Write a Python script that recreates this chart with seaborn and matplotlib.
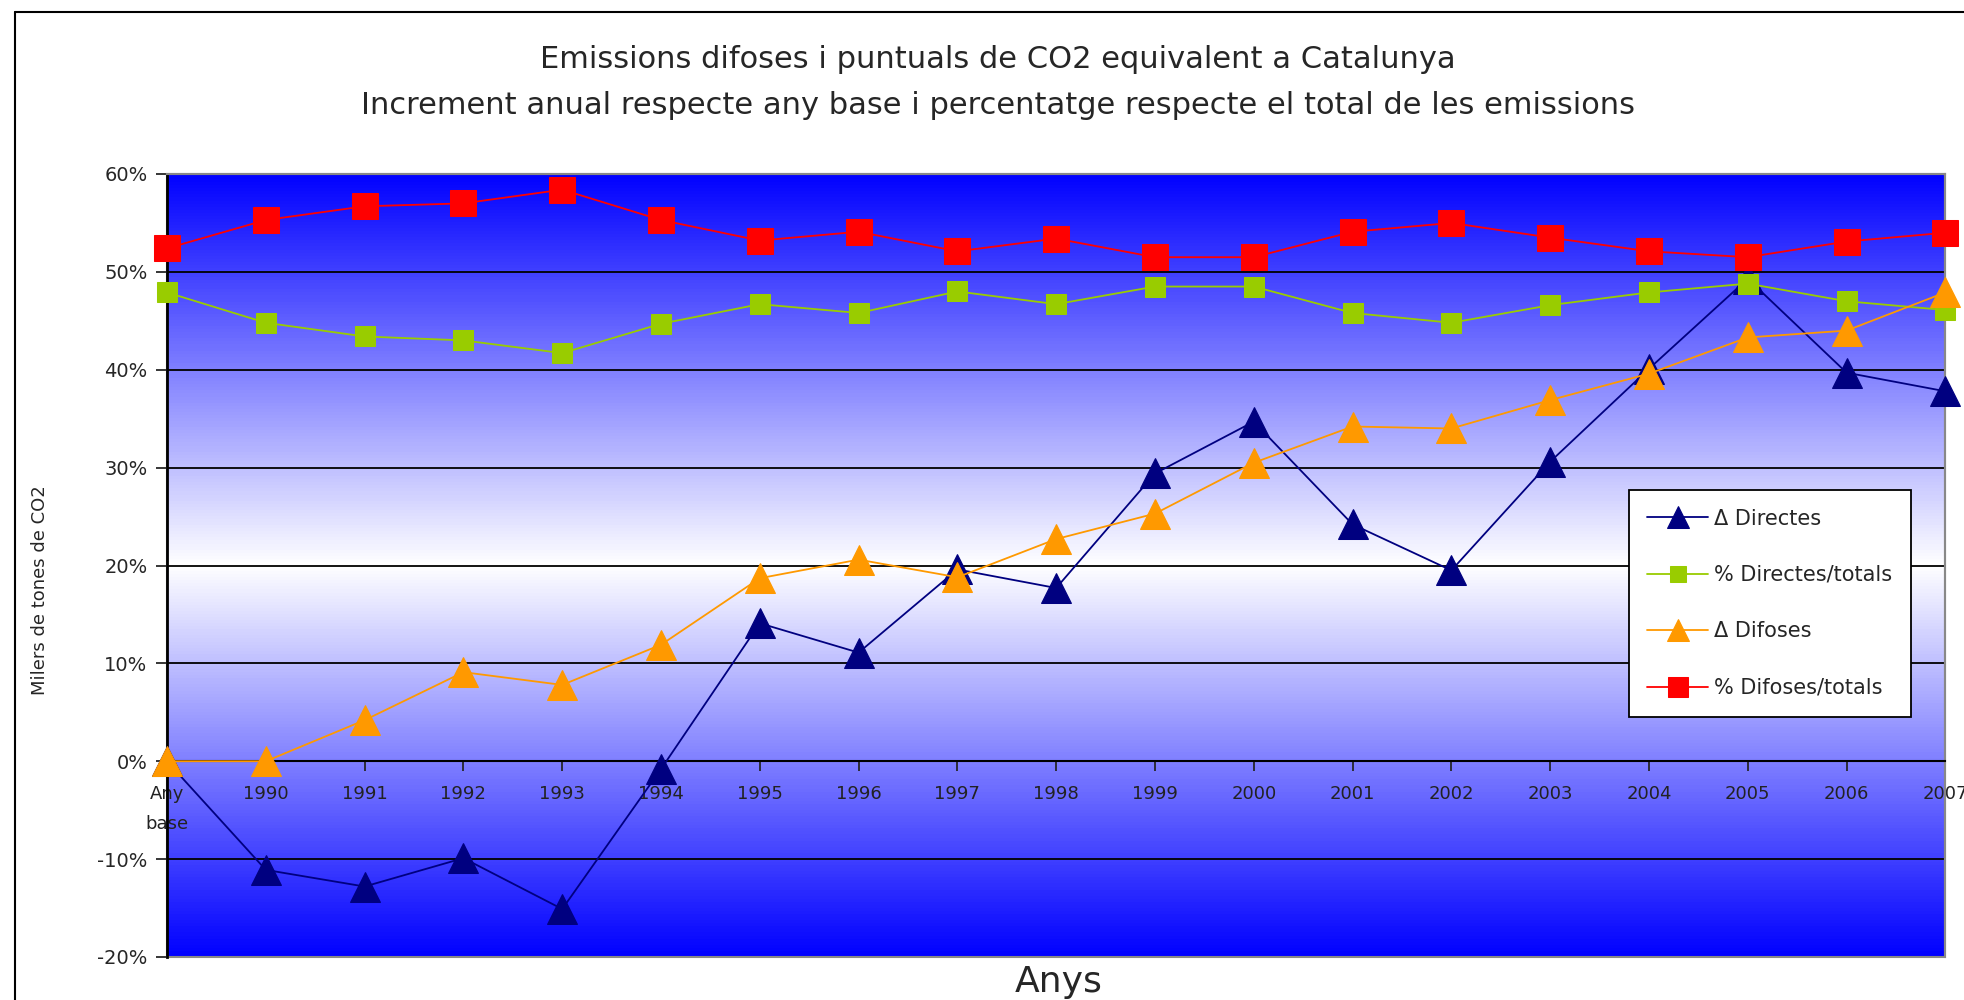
import numpy as np
import pandas as pd
import matplotlib
matplotlib.use('Agg')
import matplotlib.pyplot as plt
import seaborn as sns
from matplotlib.colors import LinearSegmentedColormap
from matplotlib.lines import Line2D
from matplotlib.patches import Rectangle

# dades llegides del grafic original (%)
anys = ['Any\nbase', '1990', '1991', '1992', '1993', '1994', '1995', '1996', '1997',
        '1998', '1999', '2000', '2001', '2002', '2003', '2004', '2005', '2006', '2007']
delta_directes = [0.0, -11.1, -12.8, -9.9, -15.1, -0.8, 14.1, 11.1, 19.6, 17.7,
                  29.4, 34.7, 24.2, 19.5, 30.6, 40.1, 49.3, 39.7, 37.8]
pct_directes = [47.9, 44.8, 43.4, 43.0, 41.7, 44.7, 46.7, 45.8, 48.0, 46.7,
                48.5, 48.5, 45.8, 44.8, 46.6, 47.9, 48.8, 47.0, 46.1]
delta_difoses = [0.0, 0.0, 4.2, 9.1, 7.8, 11.9, 18.7, 20.6, 18.8, 22.7,
                 25.3, 30.5, 34.2, 34.0, 36.9, 39.6, 43.3, 44.0, 47.9]
pct_difoses = [52.4, 55.3, 56.7, 57.0, 58.4, 55.3, 53.2, 54.1, 52.1, 53.4,
               51.5, 51.5, 54.1, 55.0, 53.5, 52.1, 51.5, 53.1, 54.0]

df = pd.DataFrame({'pos': np.arange(len(anys)),
                   'delta_directes': delta_directes,
                   'pct_directes': pct_directes,
                   'delta_difoses': delta_difoses,
                   'pct_difoses': pct_difoses})

sns.set_style('white')
plt.rcParams['font.family'] = ['DejaVu Sans']

fig = plt.figure(figsize=(19.65, 10), dpi=100)
ax = fig.add_axes([0.085, 0.043, 0.905, 0.783])

# fons amb degradat blau-blanc-blau
cmap = LinearSegmentedColormap.from_list('fons', ['#0000FF', '#FFFFFF', '#0000FF'])
grad = np.linspace(0, 1, 256).reshape(-1, 1)
ax.imshow(grad, cmap=cmap, aspect='auto', extent=[0, 1, 0, 1],
          transform=ax.transAxes, zorder=0)

for y in range(-10, 61, 10):
    if y != 0:
        ax.axhline(y, color='black', lw=1.3, zorder=1)

series = [('delta_directes', '\u0394 Directes', '#000080', '^', 22),
          ('pct_directes', '% Directes/totals', '#99CC00', 's', 15),
          ('delta_difoses', '\u0394 Difoses', '#FF9900', '^', 22),
          ('pct_difoses', '% Difoses/totals', '#FF0000', 's', 19)]
for col, etiqueta, color, mk, ms in series:
    sns.lineplot(data=df, x='pos', y=col, ax=ax, color=color, marker=mk,
                 markersize=ms, markeredgecolor=color, linewidth=1.3,
                 label=etiqueta, clip_on=False, zorder=3)

# l'eix x passa pel 0 (abans de configurar els ticks)
ax.spines['bottom'].set_position(('data', 0))
ax.spines['bottom'].set_color('black')
ax.spines['bottom'].set_linewidth(1.5)
ax.spines['left'].set_color('black')
ax.spines['left'].set_linewidth(2)
ax.spines['top'].set_color('#888888')
ax.spines['right'].set_color('#888888')
ax.spines['top'].set_linewidth(1.5)
ax.spines['right'].set_linewidth(1.5)
ax.add_patch(Rectangle((0, 0), 1, 1, transform=ax.transAxes, fill=False,
                       edgecolor='#888888', lw=1.5, zorder=2, clip_on=False))

ax.set_xlim(0, len(anys) - 1)
ax.set_ylim(-20, 60)
ax.set_yticks(range(-20, 61, 10))
ax.set_yticklabels([f'{v}%' for v in range(-20, 61, 10)], fontsize=14)
ax.set_xticks(df['pos'])
ax.set_xticklabels(anys, fontsize=13, color='#222222', linespacing=1.9)
ax.tick_params(axis='x', direction='out', length=7, width=1.3, pad=10, bottom=True)
ax.tick_params(axis='y', direction='out', length=8, width=1.3, pad=6, left=True)
ax.set_xlabel('')
ax.set_ylabel('')

leg = ax.legend(loc='upper left', bbox_to_anchor=(0.816, 0.61), fontsize=15,
                frameon=True, fancybox=False, edgecolor='black', framealpha=1,
                labelspacing=1.75, borderpad=0.9, handlelength=2.9,
                handletextpad=0.3, markerscale=0.75)
leg.get_frame().set_linewidth(1.3)
leg.set_zorder(5)

fig.text(0.508, 0.94, 'Emissions difoses i puntuals de CO2 equivalent a Catalunya',
         ha='center', va='center', fontsize=22)
fig.text(0.508, 0.895, 'Increment anual respecte any base i percentatge respecte el total de les emissions',
         ha='center', va='center', fontsize=22)
fig.text(0.0204, 0.41, 'Milers de tones de CO2', rotation=90,
         ha='center', va='center', fontsize=13)
fig.text(0.539, 0.018, 'Anys', ha='center', va='center', fontsize=26)

fig.add_artist(Line2D([15 / 1965, 15 / 1965], [0, 1 - 12 / 1000], color='black', lw=1.5))
fig.add_artist(Line2D([15 / 1965, 1], [1 - 12 / 1000, 1 - 12 / 1000], color='black', lw=1.5))

fig.savefig('out.png', dpi=100, facecolor='white')
